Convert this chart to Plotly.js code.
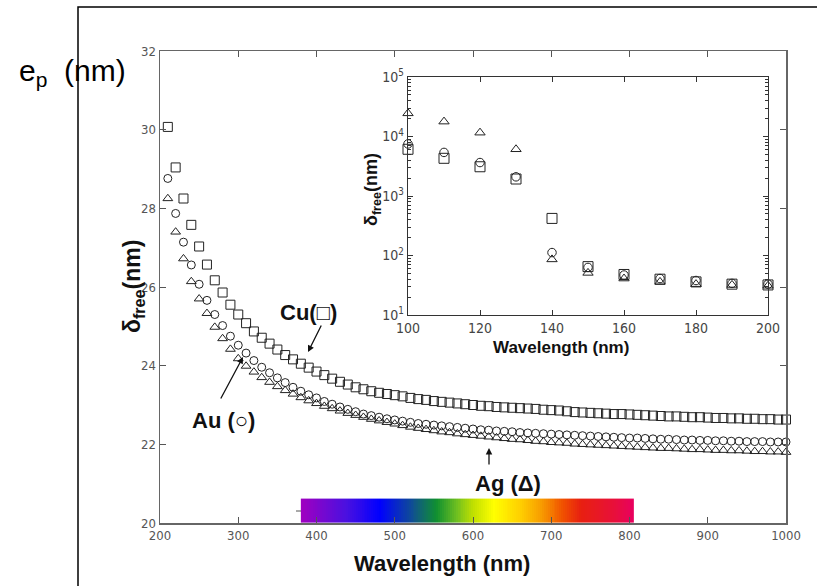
<!DOCTYPE html>
<html>
<head>
<meta charset="utf-8">
<script src="https://cdn.plot.ly/plotly-3.0.1.min.js"></script>
<style>html,body{margin:0;padding:0;background:#fff;}#chart{width:817px;height:586px;}</style>
</head>
<body>
<div id="chart"></div>
<script>
// ---------- main chart data (wavelength in nm, delta_free in nm) ----------
const wavelengths = [210,220,230,240,250,260,270,280,290,300,310,320,330,340,350,360,370,380,390,400,
  410,420,430,440,450,460,470,480,490,500,510,520,530,540,550,560,570,580,590,600,
  610,620,630,640,650,660,670,680,690,700,710,720,730,740,750,760,770,780,790,800,
  810,820,830,840,850,860,870,880,890,900,910,920,930,940,950,960,970,980,990,1000];

const cuValues = [30.07,29.04,28.25,27.58,27.03,26.57,26.17,25.86,25.55,25.30,25.08,24.87,24.71,24.56,24.41,24.27,24.16,24.05,23.95,23.85,
  23.76,23.67,23.59,23.52,23.45,23.40,23.35,23.31,23.28,23.25,23.22,23.18,23.15,23.13,23.10,23.08,23.06,23.04,23.02,23.00,
  22.98,22.97,22.95,22.94,22.93,22.92,22.91,22.90,22.88,22.87,22.86,22.84,22.82,22.81,22.80,22.79,22.78,22.77,22.77,22.76,
  22.75,22.74,22.73,22.72,22.71,22.71,22.70,22.69,22.69,22.68,22.67,22.67,22.66,22.66,22.65,22.65,22.64,22.64,22.63,22.63];

const auValues = [28.76,27.87,27.14,26.56,26.07,25.66,25.30,25.02,24.75,24.52,24.32,24.13,23.96,23.82,23.69,23.57,23.45,23.35,23.26,23.18,
  23.09,23.02,22.95,22.89,22.83,22.77,22.73,22.69,22.65,22.62,22.59,22.56,22.53,22.51,22.49,22.47,22.45,22.43,22.41,22.39,
  22.37,22.36,22.34,22.33,22.32,22.30,22.29,22.28,22.27,22.26,22.25,22.24,22.23,22.22,22.21,22.20,22.19,22.18,22.17,22.16,
  22.16,22.15,22.14,22.13,22.13,22.12,22.11,22.11,22.10,22.10,22.09,22.09,22.08,22.08,22.07,22.07,22.07,22.06,22.06,22.06];

const agValues = [28.25,27.40,26.72,26.14,25.70,25.33,24.98,24.69,24.42,24.18,23.99,23.84,23.70,23.58,23.47,23.37,23.28,23.19,23.11,23.04,
  22.97,22.91,22.85,22.79,22.74,22.69,22.64,22.60,22.56,22.52,22.48,22.44,22.41,22.38,22.35,22.32,22.30,22.27,22.25,22.23,
  22.21,22.19,22.17,22.15,22.13,22.12,22.10,22.08,22.07,22.05,22.04,22.03,22.01,22.00,21.99,21.98,21.97,21.96,21.95,21.94,
  21.93,21.92,21.91,21.90,21.90,21.89,21.88,21.87,21.87,21.86,21.85,21.85,21.84,21.84,21.83,21.82,21.82,21.81,21.81,21.80];

// ---------- inset data (100-200 nm, log scale) ----------
const insetWavelengths = [100,110,120,130,140,150,160,170,180,190,200];
const insetCu = [6100,4300,3100,1930,420,65,48,40,36,33,32];
const insetAu = [7500,5400,3650,2100,112,63,47,41,38,34,33];
const insetAg = [24500,17800,11600,6100,86,51,41,36,33,32,31];

// ---------- tick labels ----------
const mainXTicks = [200,300,400,500,600,700,800,900,1000];
const mainYTicks = [20,22,24,26,28,30,32];
const insetXTicks = [100,120,140,160,180,200];
const insetYTicks = [10,100,1000,10000,100000];
const insetYTickText = ['10<sup>1</sup>','10<sup>2</sup>','10<sup>3</sup>','10<sup>4</sup>','10<sup>5</sup>'];

// ---------- visible spectrum strip ----------
const spectrumNm = [380,438,481,523,553,579,600,626,660,685,715,737,780,805];
const spectrumColors = ['#a000c0','#4a10e0','#0000ff','#105090','#109030','#70c020','#c0e000','#ffff00','#ffd000','#f8a000','#f05000','#e82010','#e8103a','#e80060'];
const spectrumTop = 20.62;

// build strip
const sMin = spectrumNm[0], sMax = spectrumNm[spectrumNm.length-1];
const stripEdges = [], stripZ = [];
for (let v = sMin; v <= sMax + 1e-9; v += 2.5) stripEdges.push(v);
for (let i = 0; i < stripEdges.length - 1; i++) stripZ.push((stripEdges[i] + stripEdges[i+1]) / 2);
const stripScale = spectrumNm.map((n, i) => [(n - sMin) / (sMax - sMin), spectrumColors[i]]);

const tickFont = {family: 'Liberation Sans Narrow, Arial Narrow, DejaVu Sans Condensed, sans-serif', size: 13, color: '#555'};
const labelFont = {family: 'Liberation Sans, Arial, sans-serif', size: 22, color: '#111', weight: 'bold'};
const mk = (symbol, size) => ({symbol: symbol, size: size, color: '#222', line: {color: '#222', width: 1}});

const traces = [
  {type: 'heatmap', x: stripEdges, y: [20, spectrumTop], z: [stripZ], zmin: sMin, zmax: sMax,
   colorscale: stripScale, showscale: false, hoverinfo: 'skip', xaxis: 'x', yaxis: 'y'},
  {type: 'scatter', mode: 'markers', name: 'Cu', x: wavelengths, y: cuValues, marker: mk('square-open', 9), xaxis: 'x', yaxis: 'y', cliponaxis: false},
  {type: 'scatter', mode: 'markers', name: 'Au', x: wavelengths, y: auValues, marker: mk('circle-open', 8), xaxis: 'x', yaxis: 'y', cliponaxis: false},
  {type: 'scatter', mode: 'markers', name: 'Ag', x: wavelengths, y: agValues, marker: mk('triangle-up-open', 8.5), xaxis: 'x', yaxis: 'y', cliponaxis: false},
  {type: 'scatter', mode: 'markers', name: 'Cu inset', x: insetWavelengths, y: insetCu, marker: mk('square-open', 10), xaxis: 'x2', yaxis: 'y2', cliponaxis: false},
  {type: 'scatter', mode: 'markers', name: 'Au inset', x: insetWavelengths, y: insetAu, marker: mk('circle-open', 8.5), xaxis: 'x2', yaxis: 'y2', cliponaxis: false},
  {type: 'scatter', mode: 'markers', name: 'Ag inset', x: insetWavelengths, y: insetAg, marker: mk('triangle-up-open', 9), xaxis: 'x2', yaxis: 'y2', cliponaxis: false}
];

const minorLog = [];
for (let d = 1; d < 5; d++) for (let k = 2; k <= 9; k++) minorLog.push(k * Math.pow(10, d));

const W = 817, H = 586, L = 160, R = 31, T = 51, B = 63;
const pw = W - L - R, ph = H - T - B;
const px = x => (x - L) / pw;
const py = y => (H - B - y) / ph;

const layout = {
  width: W, height: H,
  margin: {l: L, r: R, t: T, b: B, pad: 0},
  paper_bgcolor: '#fff', plot_bgcolor: 'rgba(0,0,0,0)',
  showlegend: false,
  xaxis: {domain: [0, 1], range: [200, 1000], tickvals: mainXTicks, ticks: 'inside', ticklen: 6, tickcolor: '#555',
          showline: true, linecolor: '#666', linewidth: 1.5, mirror: 'ticks', showgrid: false, zeroline: false,
          tickfont: tickFont, fixedrange: true},
  yaxis: {domain: [0, 1], range: [20, 32], tickvals: mainYTicks, ticks: 'inside', ticklen: 6, tickcolor: '#555',
          showline: true, linecolor: '#666', linewidth: 1.5, mirror: 'ticks', showgrid: false, zeroline: false,
          tickfont: tickFont, fixedrange: true},
  xaxis2: {domain: [px(408), px(768)], anchor: 'y2', range: [100, 200], tickvals: insetXTicks, ticks: 'inside', ticklen: 5,
           tickcolor: '#333', showline: true, linecolor: '#333', linewidth: 1.3, mirror: 'allticks', showgrid: false,
           zeroline: false, tickfont: {family: tickFont.family, size: 14, color: '#444'}, fixedrange: true},
  yaxis2: {domain: [py(315), py(77)], anchor: 'x2', type: 'log', range: [1, 5], tickvals: insetYTicks, ticktext: insetYTickText,
           ticks: 'inside', ticklen: 5, tickcolor: '#333', showline: true, linecolor: '#333', linewidth: 1.3, mirror: 'allticks',
           showgrid: false, zeroline: false, tickfont: {family: tickFont.family, size: 14, color: '#444'},
           minor: {tickmode: 'array', tickvals: minorLog, ticks: 'inside', ticklen: 3, tickcolor: '#333', showgrid: false},
           fixedrange: true},
  shapes: [
    {type: 'rect', xref: 'paper', yref: 'paper', x0: px(78), x1: px(830), y0: py(600), y1: py(7),
     line: {color: '#000', width: 1.5}, fillcolor: 'rgba(0,0,0,0)', layer: 'above'},
    {type: 'line', xref: 'paper', yref: 'paper', x0: px(296), x1: px(301), y0: py(511), y1: py(511),
     line: {color: '#555', width: 1}}
  ],
  annotations: [
    {xref: 'paper', yref: 'paper', x: px(17), y: py(72), xanchor: 'left', yanchor: 'middle', showarrow: false,
     text: 'e<sub>p</sub>  (nm)', font: {family: 'Liberation Sans, Arial, sans-serif', size: 30, color: '#000'}},
    {xref: 'paper', yref: 'paper', x: px(133), y: py(287), textangle: -90, xanchor: 'center', yanchor: 'middle', showarrow: false,
     text: 'δ<sub>free</sub>(nm)', font: {family: labelFont.family, size: 23, color: '#111', weight: 'bold'}},
    {xref: 'paper', yref: 'paper', x: px(442), y: py(563), xanchor: 'center', yanchor: 'middle', showarrow: false,
     text: 'Wavelength (nm)', font: labelFont},
    {xref: 'paper', yref: 'paper', x: px(372), y: py(190), textangle: -90, xanchor: 'center', yanchor: 'middle', showarrow: false,
     text: 'δ<sub>free</sub>(nm)', font: {family: labelFont.family, size: 18, color: '#111', weight: 'bold'}},
    {xref: 'paper', yref: 'paper', x: px(561), y: py(347), xanchor: 'center', yanchor: 'middle', showarrow: false,
     text: 'Wavelength (nm)', font: {family: labelFont.family, size: 17, color: '#111', weight: 'bold'}},
    // series labels
    {xref: 'paper', yref: 'paper', x: px(308), y: py(312), xanchor: 'center', yanchor: 'middle', showarrow: false,
     text: 'Cu(□)', font: labelFont},
    {xref: 'paper', yref: 'paper', x: px(223), y: py(420), xanchor: 'center', yanchor: 'middle', showarrow: false,
     text: 'Au (○)', font: labelFont},
    {xref: 'paper', yref: 'paper', x: px(508), y: py(483), xanchor: 'center', yanchor: 'middle', showarrow: false,
     text: 'Ag (Δ)', font: labelFont},
    // arrows
    {xref: 'paper', yref: 'paper', x: px(308), y: py(352), ax: 14, ay: -28, text: '', showarrow: true,
     arrowhead: 2, arrowsize: 1, arrowwidth: 1.3, arrowcolor: '#111'},
    {xref: 'paper', yref: 'paper', x: px(243), y: py(357), ax: -23, ay: 43, text: '', showarrow: true,
     arrowhead: 2, arrowsize: 1, arrowwidth: 1.3, arrowcolor: '#111'},
    {xref: 'paper', yref: 'paper', x: px(489), y: py(448), ax: 0, ay: 18, text: '', showarrow: true,
     arrowhead: 2, arrowsize: 1, arrowwidth: 1.3, arrowcolor: '#111'}
  ]
};

Plotly.newPlot('chart', traces, layout, {staticPlot: true, displayModeBar: false});
</script>
</body>
</html>
